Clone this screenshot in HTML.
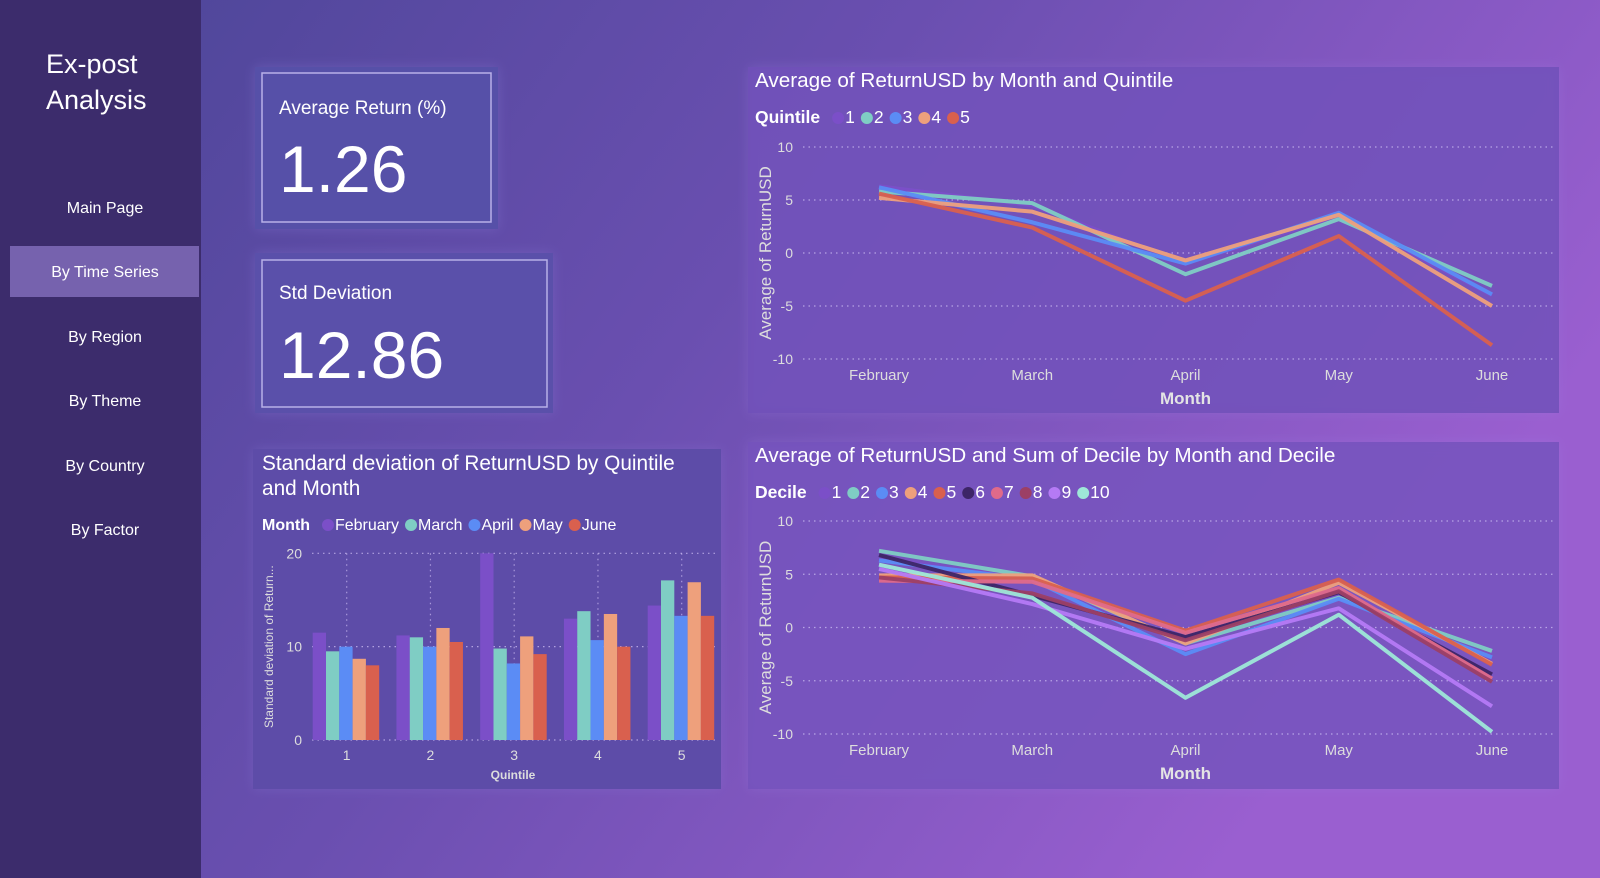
<!DOCTYPE html>
<html><head><meta charset="utf-8"><style>
html,body{margin:0;padding:0;width:1600px;height:878px;overflow:hidden;font-family:"Liberation Sans",sans-serif}
svg text{font-family:"Liberation Sans",sans-serif}
</style></head><body>
<svg id="root" width="1600" height="878" viewBox="0 0 1600 878" xmlns="http://www.w3.org/2000/svg">
<defs>
<linearGradient id="bg" x1="0" y1="0" x2="1" y2="0.4">
<stop offset="0" stop-color="#4a4596"/><stop offset="0.5" stop-color="#6a4fb0"/><stop offset="1" stop-color="#9a5fd0"/>
</linearGradient>
<filter id="glow" x="-10%" y="-10%" width="120%" height="120%"><feGaussianBlur stdDeviation="6"/></filter>
</defs>
<rect x="0" y="0" width="1600" height="878" fill="url(#bg)"/>
<rect x="0" y="0" width="201" height="878" fill="#3c2c6c"/>
<text x="46" y="73" fill="#fff" font-size="27">Ex-post</text>
<text x="46" y="109" fill="#fff" font-size="27">Analysis</text>
<rect x="10" y="246" width="189" height="51" fill="#8a74c4" opacity="0.75"/>
<g fill="#fff" font-size="16" text-anchor="middle">
<text x="105" y="213">Main Page</text>
<text x="105" y="277">By Time Series</text>
<text x="105" y="342">By Region</text>
<text x="105" y="406">By Theme</text>
<text x="105" y="471">By Country</text>
<text x="105" y="535">By Factor</text>
</g>
<g>
<rect x="255" y="67" width="243" height="162" fill="#8a7ad8" opacity="0.35" filter="url(#glow)"/>
<rect x="255" y="67" width="243" height="162" fill="#5650a8"/>
<rect x="262" y="73" width="229" height="149" fill="none" stroke="#b8b0e8" stroke-width="1.5"/>
<rect x="255" y="253" width="298" height="160" fill="#8a7ad8" opacity="0.35" filter="url(#glow)"/>
<rect x="255" y="253" width="298" height="160" fill="#5a50aa"/>
<rect x="262" y="260" width="285" height="147" fill="none" stroke="#b8b0e8" stroke-width="1.5"/>
<rect x="253" y="449" width="468" height="340" fill="#8a7ad8" opacity="0.3" filter="url(#glow)"/>
<rect x="253" y="449" width="468" height="340" fill="#5d4ca8"/>
<rect x="748" y="67" width="811" height="346" fill="#9a7ae0" opacity="0.3" filter="url(#glow)"/>
<rect x="748" y="67" width="811" height="346" fill="#7050b8" opacity="0.85"/>
<rect x="748" y="442" width="811" height="347" fill="#9a7ae0" opacity="0.3" filter="url(#glow)"/>
<rect x="748" y="442" width="811" height="347" fill="#7452bc" opacity="0.85"/>
</g>
<text x="279" y="114" fill="#fff" font-size="19">Average Return (%)</text>
<text x="279" y="192" fill="#fff" font-size="66">1.26</text>
<text x="279" y="299" fill="#fff" font-size="19">Std Deviation</text>
<text x="279" y="378" fill="#fff" font-size="66">12.86</text>
<text x="262" y="470" fill="#fff" font-size="20.8">Standard deviation of ReturnUSD by Quintile</text>
<text x="262" y="495" fill="#fff" font-size="20.8">and Month</text>
<text x="755" y="87" fill="#fff" font-size="20.7">Average of ReturnUSD by Month and Quintile</text>
<text x="755" y="462" fill="#fff" font-size="20.7">Average of ReturnUSD and Sum of Decile by Month and Decile</text>
<g id="charts"></g>
</svg>
<script>
const months = ["February","March","April","May","June"];
const quintiles = ["1","2","3","4","5"];
const quintileColors = ["#7b4fc8","#7fcdc4","#5b8cf5","#eea07c","#d9604e"];
const q1 = [6.3,4.5,-1.0,3.5,-4.0];
const q2 = [5.8,4.7,-2.0,3.2,-3.1];
const q3 = [6.2,2.9,-1.0,3.8,-3.9];
const q4 = [5.2,3.9,-0.7,3.6,-5.0];
const q5 = [5.6,2.4,-4.5,1.6,-8.7];
const deciles = ["1","2","3","4","5","6","7","8","9","10"];
const decileColors = ["#7b4fc8","#7fcdc4","#5b8cf5","#eea07c","#d9604e","#3d2566","#e06a8a","#9c3f66","#b57af5","#9ee8d8"];
const d1 = [6.5,4.5,-1.5,3.0,-3.0];
const d2 = [7.2,4.8,-1.5,2.8,-2.2];
const d3 = [6.3,4.5,-2.5,2.7,-2.8];
const d4 = [4.9,4.9,-1.5,4.2,-3.4];
const d5 = [4.7,4.6,-0.3,4.5,-3.5];
const d6 = [6.8,3.0,-0.9,3.3,-4.4];
const d7 = [4.4,4.3,-0.5,3.7,-4.8];
const d8 = [4.7,3.2,-1.2,3.4,-5.1];
const d9 = [5.5,2.2,-2.0,1.8,-7.4];
const d10 = [5.9,2.8,-6.6,1.2,-9.8];
const lineTicks = [10,5,0,-5,-10];
const barMonthColors = ["#7b4fc8","#7fcdc4","#5b8cf5","#eea07c","#d9604e"];
const barFeb = [11.5,11.2,20.0,13.0,14.4];
const barMar = [9.5,11.0,9.8,13.8,17.1];
const barApr = [10.0,10.0,8.2,10.7,13.3];
const barMay = [8.7,12.0,11.1,13.5,16.9];
const barJun = [8.0,10.5,9.2,10.0,13.3];
const barTicks = [0,10,20];

const NS="http://www.w3.org/2000/svg";
const G=document.getElementById('charts');
function mk(tag,attrs,parent){const e=document.createElementNS(NS,tag);for(const k in attrs)e.setAttribute(k,attrs[k]);(parent||G).appendChild(e);return e;}
function txt(x,y,s,size,fill,anchor,extra){const t=mk('text',Object.assign({x:x,y:y,'font-size':size,fill:fill,'text-anchor':anchor||'start'},extra||{}));t.textContent=s;return t;}

function legend(x,y,title,labels,colors,name,fs){
  const t=txt(x,y,title,fs,'#fff','start',{'font-weight':'bold'});
  
  
  let cx=x+t.getComputedTextLength()+12;
  labels.forEach((l,i)=>{
    const c=mk('circle',{cx:cx+6,cy:y-5,r:6,fill:colors[i]});
    
    
    const lt=txt(cx+13,y,l,fs,'#fff');
    
    
    cx+=13+lt.getComputedTextLength()+6;
  });
}

function lineChart(cfg){
  const yS=v=>cfg.y0+(cfg.vmax-v)/(cfg.vmax-cfg.vmin)*(cfg.y1-cfg.y0);
  const xS=i=>cfg.x0+i*(cfg.x1-cfg.x0)/(months.length-1);
  lineTicks.forEach(v=>{
    const gl=mk('line',{x1:cfg.gx0,x2:cfg.gx1,y1:yS(v),y2:yS(v),stroke:'#c8b8f0','stroke-dasharray':'1.5 4','stroke-width':1.2,opacity:0.8});
    
    
    const tl=txt(cfg.gx0-10,yS(v)+5,String(v),14,'#ddd','end');
    
    
  });
  months.forEach((m,i)=>{
    const tl=txt(xS(i),yS(cfg.vmin)+21,m,15,'#ddd','middle');
    
    
  });
  const xt=txt((cfg.x0+cfg.x1)/2,yS(cfg.vmin)+45,'Month',17,'#e4e4e4','middle',{'font-weight':'bold'});
  
  
  const yc=(yS(cfg.vmax)+yS(cfg.vmin))/2;
  const yt=txt(cfg.ytx,yc,'Average of ReturnUSD',17,'#ddd','middle',{transform:'rotate(-90 '+cfg.ytx+' '+yc+')'});
  
  
  cfg.series.forEach((s,k)=>{
    const p=mk('polyline',{points:s.map((v,i)=>xS(i)+','+yS(v)).join(' '),fill:'none',stroke:cfg.colors[k],'stroke-width':4,'stroke-linejoin':'round',opacity:0.95});
    
    
  });
}

legend(755,123,'Quintile',quintiles,quintileColors,'quintile-legend',17.5);
lineChart({name:'quintile-chart',x0:879,x1:1492,y0:147,y1:359,vmax:10,vmin:-10,gx0:803,gx1:1554,ytx:771,
  series:[q1,q2,q3,q4,q5],colors:quintileColors,labels:quintiles});
legend(755,498,'Decile',deciles,decileColors,'decile-legend',17.5);
lineChart({name:'decile-chart',x0:879,x1:1492,y0:521,y1:734,vmax:10,vmin:-10,gx0:803,gx1:1554,ytx:771,
  series:[d1,d2,d3,d4,d5,d6,d7,d8,d9,d10],colors:decileColors,labels:deciles});

legend(262,530,'Month',months,barMonthColors,'bar-legend',16);
(function(){
  const y0=553.3,y1=740,vmax=20,gx0=312,gx1=717;
  const yS=v=>y1-(v/vmax)*(y1-y0);
  const xC=i=>346.7+i*83.75;
  const bw=13.3;
  barTicks.forEach(v=>{
    const gl=mk('line',{x1:gx0,x2:gx1,y1:yS(v),y2:yS(v),stroke:'#c8b8f0','stroke-dasharray':'1.5 4','stroke-width':1.2,opacity:0.8});
    
    
    const tl=txt(gx0-10,yS(v)+5,String(v),14,'#ddd','end');
    
    
  });
  quintiles.forEach((q,i)=>{
    const vl=mk('line',{x1:xC(i),x2:xC(i),y1:y0,y2:y1,stroke:'#c8b8f0','stroke-dasharray':'1.5 4','stroke-width':1.2,opacity:0.7});
    
    
  });
  const series=[barFeb,barMar,barApr,barMay,barJun];
  series.forEach((s,k)=>{
    s.forEach((v,i)=>{
      const r=mk('rect',{x:xC(i)-34+k*bw,y:yS(v),width:bw,height:y1-yS(v),fill:barMonthColors[k]});
      
      
    });
  });
  quintiles.forEach((q,i)=>{
    const tl=txt(xC(i),y1+20,q,14,'#ddd','middle');
    
    
  });
  const xt=txt(513,779,'Quintile',12,'#ddd','middle',{'font-weight':'bold'});
  
  
  const yc=(y0+y1)/2;
  const yt=txt(273,yc,'Standard deviation of Return...',12,'#ddd','middle',{transform:'rotate(-90 273 '+yc+')'});
  
  
})();
</script>
</body></html>
